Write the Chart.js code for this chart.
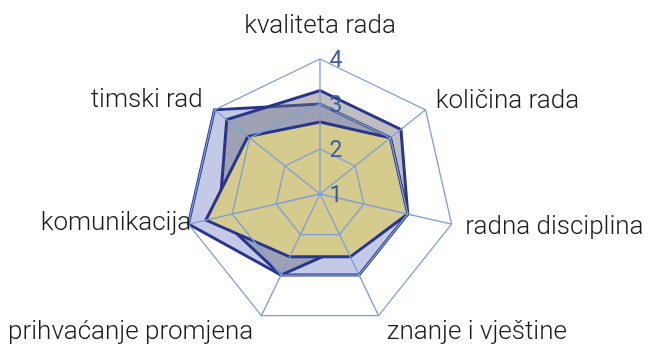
<!DOCTYPE html>
<html><head><meta charset="utf-8">
<script src="https://cdn.jsdelivr.net/npm/chart.js@4.4.1/dist/chart.umd.min.js"></script>
<style>html,body{margin:0;padding:0;background:#fff}#wrap{width:656px;height:351px}</style>
</head><body><div id="wrap"><canvas id="c" width="656" height="351"></canvas></div>
<script>
const categories = ['kvaliteta rada','količina rada','radna disciplina','znanje i vještine','prihvaćanje promjena','komunikacija','timski rad'];
const seriesInner  = [2.6, 3.0, 3.0, 2.55, 2.55, 3.6, 3.05];
const seriesMiddle = [3.3, 3.3, 3.0, 2.3, 3.0, 3.3, 3.65];
const seriesOuter  = [3.0, 3.0, 3.0, 3.0, 3.0, 4.0, 4.0];
const tickValues = [1, 2, 3, 4];

const LABEL_GAP = [26, 13, 14, 19, 19, -3, 15];
const LABEL_FONT = '300 26px Roboto, "Liberation Sans", sans-serif';
const TICK_FONT = '400 23px Roboto, "Liberation Sans", sans-serif';

const labelPlugin = {
  id: 'customLabels',
  afterDraw(chart) {
    const s = chart.scales.r, ctx = chart.ctx;
    ctx.save();
    ctx.font = LABEL_FONT;
    ctx.fillStyle = '#1b1b1b';
    categories.forEach((t, i) => {
      const p = s.getPointPosition(i, s.drawingArea + LABEL_GAP[i]);
      const dx = p.x - s.xCenter;
      ctx.textAlign = dx > 2 ? 'left' : (dx < -2 ? 'right' : 'center');
      ctx.textBaseline = i === 0 ? 'alphabetic' : 'middle';
      ctx.fillText(t, p.x, p.y);
    });
    ctx.font = TICK_FONT;
    ctx.fillStyle = '#3a5da5';
    ctx.textAlign = 'center';
    ctx.textBaseline = 'middle';
    tickValues.forEach(v => {
      const d = s.getDistanceFromCenterForValue(v);
      ctx.fillText(String(v), s.xCenter + 16, s.yCenter - d + 2);
    });
    ctx.restore();
  }
};

new Chart(document.getElementById('c'), {
  type: 'radar',
  data: {
    labels: categories,
    datasets: [
      { data: seriesInner, backgroundColor: '#d5cb8c', borderColor: '#28358c', borderWidth: 3, order: 0 },
      { data: seriesMiddle, backgroundColor: 'rgba(110,110,118,0.45)', borderColor: '#28358c', borderWidth: 3, order: 1 },
      { data: seriesOuter, backgroundColor: 'rgba(60,80,170,0.30)', borderColor: '#28358c', borderWidth: 3, order: 2 }
    ]
  },
  options: {
    responsive: false,
    animation: false,
    devicePixelRatio: 1,
    layout: { padding: { top: 59, bottom: 22, left: 0, right: 16 } },
    elements: { point: { radius: 0, hoverRadius: 0 }, line: { tension: 0 } },
    plugins: { legend: { display: false }, tooltip: { enabled: false } },
    scales: {
      r: {
        min: 1, max: 4,
        beginAtZero: false,
        ticks: { display: false, stepSize: 1 },
        pointLabels: { display: false },
        grid: { color: '#7e9ed6', lineWidth: 1.3, circular: false, z: 1 },
        angleLines: { color: '#7e9ed6', lineWidth: 1.3 }
      }
    }
  },
  plugins: [labelPlugin]
});
</script>
</body></html>
